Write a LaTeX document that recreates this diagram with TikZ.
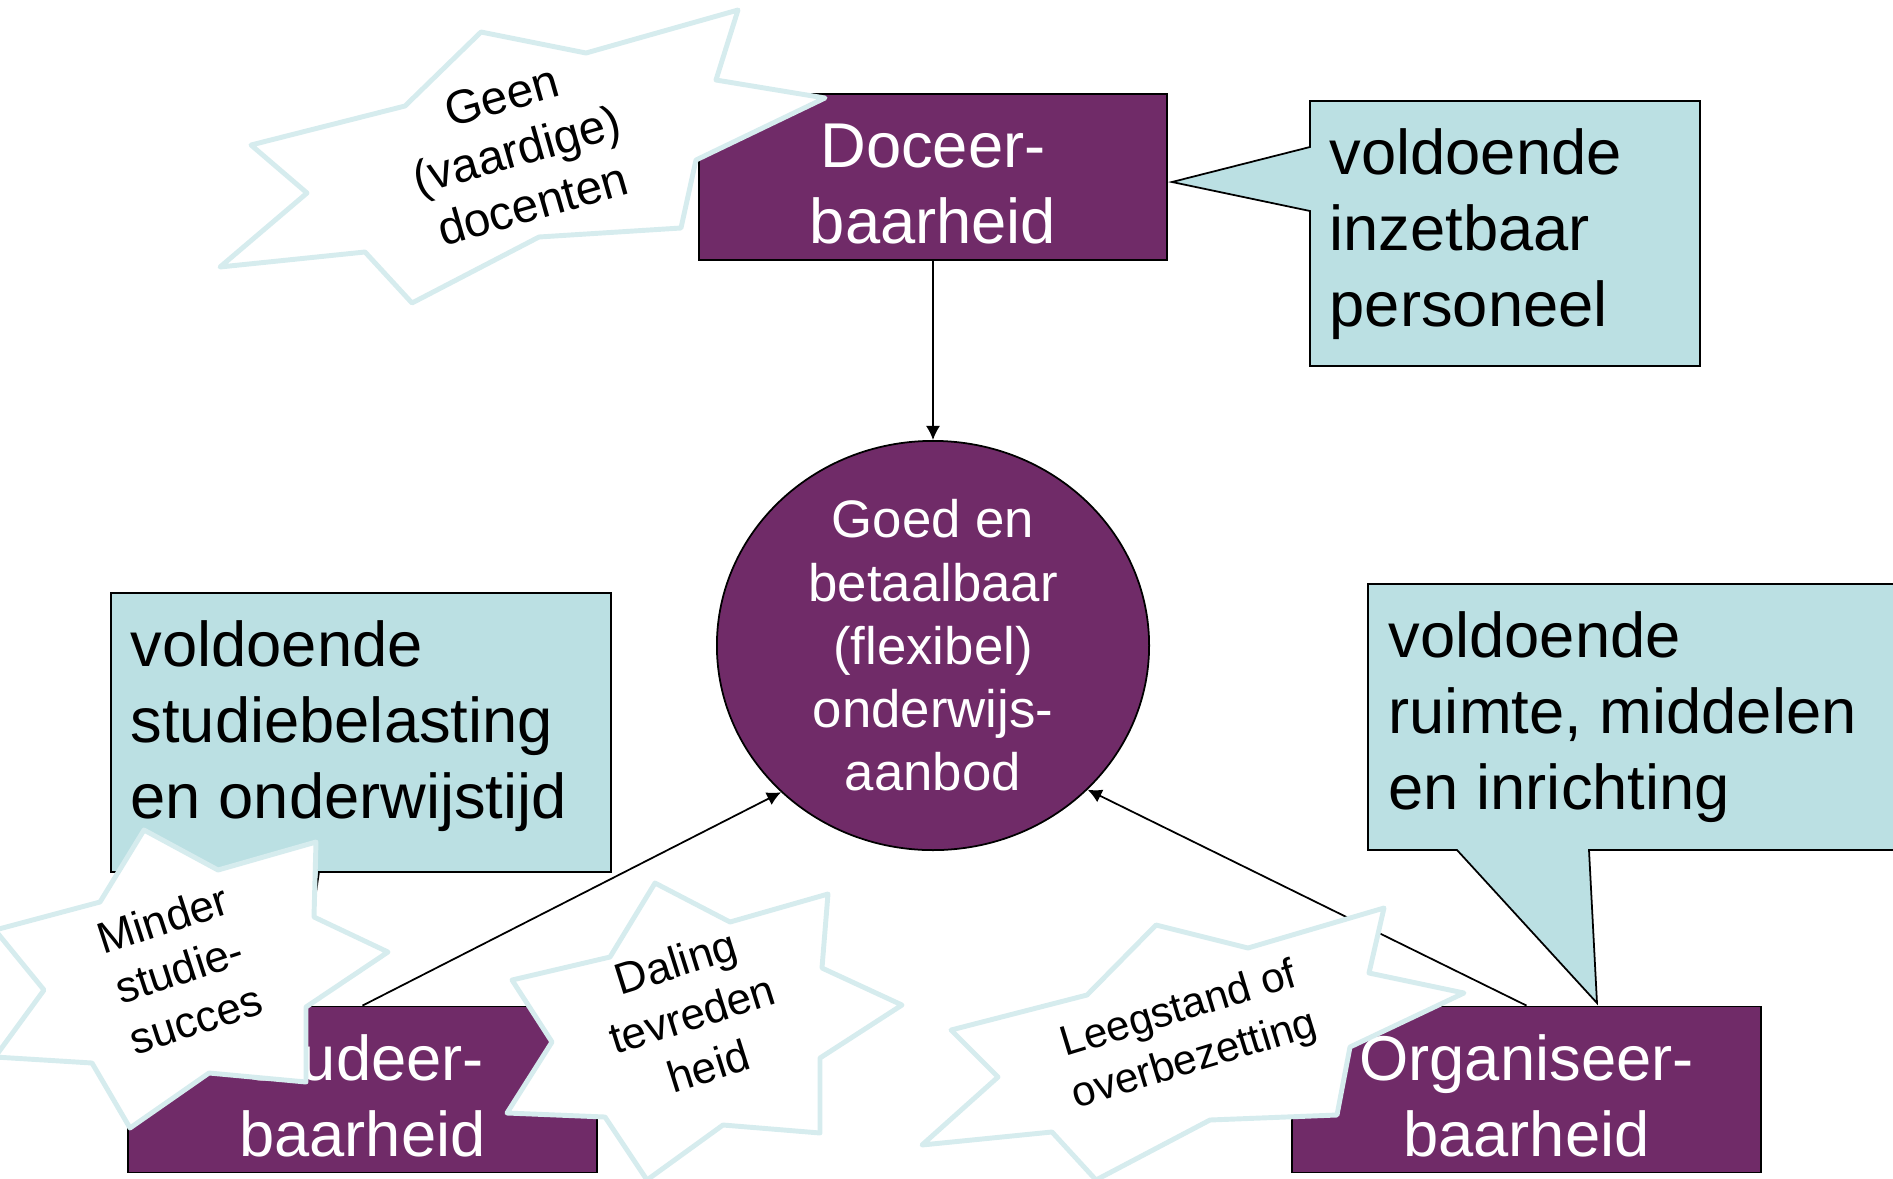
\documentclass[tikz,border=0pt]{standalone}
\usepackage{fontspec}
\setmainfont{Liberation Sans}
\usetikzlibrary{shapes.geometric,arrows.meta}
\definecolor{paars}{RGB}{112,43,104}
\definecolor{lichtblauw}{RGB}{187,224,227}
\definecolor{sterrand}{RGB}{214,236,238}
\newcommand\hoog{\rule{0pt}{16.6pt}}
\begin{document}
\begin{tikzpicture}[x=0.01cm,y=-0.01cm,
    blok/.style={draw=black,line width=0.5pt,fill=paars,text=white,align=center,
      minimum width=4.68cm,minimum height=1.66cm,inner sep=0pt,
      font=\fontsize{18}{21.6}\selectfont},
    ballon/.style={draw=black,line width=0.5pt,fill=lichtblauw},
    ballontekst/.style={anchor=north west,align=left,inner sep=0pt,
      font=\fontsize{18}{21.6}\selectfont},
    ster/.style={draw=sterrand,line width=1.4pt,fill=white,line join=round},
    stertekst/.style={align=center,inner sep=0pt},
    pijl/.style={-{Latex[length=4pt,width=4pt]},line width=0.5pt}]
  \useasboundingbox (0,0) rectangle (1893,1178);
  \draw
    (933,177) node[blok] (doceer) {\hoog Doceer-\\baarheid}
    (362.5,1089.5) node[blok] (studeer) {\hoog Studeer-\\baarheid}
    (1526.5,1089.5) node[blok] (organ) {\hoog Organiseer-\\baarheid}
    (933,645.5) node[ellipse,draw=black,line width=0.5pt,fill=paars,inner sep=0pt,
      minimum width=4.32cm,minimum height=4.09cm] (aanbod) {};
  \node[text=white,align=center,inner sep=0pt,font=\fontsize{15}{18}\selectfont]
    (aanbodtekst) at (aanbod.center) {Goed en\\betaalbaar\\(flexibel)\\onderwijs-\\aanbod};
  \coordinate (punt1) at (1172,182);
  \coordinate (punt2) at (300,1000);
  \coordinate (punt3) at (1597,1003);
  \draw[ballon] (1310,101) -- (1700,101) -- (1700,366) -- (1310,366) -- (1310,211)
    -- (punt1) -- (1310,147) -- cycle;
  \node[ballontekst] (personeel) at (1329,128) {voldoende\\inzetbaar\\personeel};
  \draw[ballon] (111,593) -- (611,593) -- (611,872) -- (319,872) -- (punt2)
    -- (200,872) -- (111,872) -- cycle;
  \node[ballontekst] (tijd) at (130,620) {voldoende\\studiebelasting\\en onderwijstijd};
  \draw[ballon] (1368,584) -- (1900,584) -- (1900,850) -- (1589,850) -- (punt3)
    -- (1457,850) -- (1368,850) -- cycle;
  \node[ballontekst] (ruimte) at (1388,611) {voldoende\\ruimte, middelen\\en inrichting};
  \begin{scope}[pijl]
    \draw (doceer) to (aanbod);
    \draw (studeer.north) to (aanbod.224);
    \draw (organ.north) to (aanbod.-43.5);
  \end{scope}
  \draw[ster] (738,10) -- (716,80) -- (825,98) -- (696,160) -- (681,228) -- (539,237)
    -- (412,303) -- (365,252) -- (220,267) -- (307,193) -- (251,145) -- (405,106)
    -- (481,32) -- (586,53) -- cycle;
  \node[stertekst,rotate=16,font=\fontsize{13.5}{16}\selectfont] (geen) at (517,150)
    {Geen\\(vaardige)\\docenten};
  \draw[ster] (144,830) -- (218,870) -- (316,842) -- (314,917) -- (388,952) -- (306,1007)
    -- (306,1082) -- (209,1073) -- (130,1128) -- (92,1063) -- (-5,1057) -- (44,990)
    -- (-5,930) -- (100,902) -- cycle;
  \node[stertekst,rotate=18,font=\fontsize{12.5}{15}\selectfont] (minder) at (179,969)
    {Minder\\studie-\\succes};
  \draw[ster] (655,883) -- (730,922) -- (828,894) -- (822,968) -- (902,1005) -- (820,1058)
    -- (820,1133) -- (723,1125) -- (647,1180) -- (605,1117) -- (507,1113) -- (552,1042)
    -- (512,980) -- (610,957) -- cycle;
  \node[stertekst,rotate=17.5,font=\fontsize{12.5}{15.5}\selectfont] (daling) at (692,1014)
    {Daling\\tevreden\\heid};
  \draw[ster] (1156,925) -- (1248,948) -- (1384,908) -- (1369,973) -- (1464,993)
    -- (1350,1047) -- (1337,1115) -- (1210,1120) -- (1096,1180) -- (1052,1132)
    -- (922,1145) -- (998,1077) -- (951,1030) -- (1087,995) -- cycle;
  \node[stertekst,rotate=17,font=\fontsize{12}{15}\selectfont] (leegstand) at (1187,1036)
    {Leegstand of\\overbezetting};
\end{tikzpicture}
\end{document}
